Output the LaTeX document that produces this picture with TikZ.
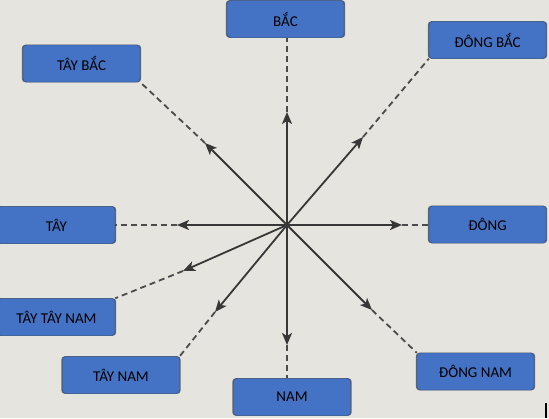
\documentclass[tikz,border=0pt]{standalone}
\usepackage{fontspec}
\setmainfont{Carlito}
\usepackage{tikz}
\usetikzlibrary{arrows.meta,shadows}
\definecolor{paper}{RGB}{230,228,222}
\definecolor{boxblue}{RGB}{68,114,196}
\definecolor{boxline}{RGB}{47,82,143}
\definecolor{ink}{RGB}{55,55,55}
\tikzset{
  dirbox/.style={draw=boxline, fill=boxblue, rounded corners=3.5pt, minimum width=117pt, minimum height=37pt, inner sep=0pt, font=\fontsize{15}{17}\selectfont, text=black, general shadow={fill=black!60, shadow scale=1.02}},
  ray/.style={draw=ink, line width=1.8pt, -{Stealth[length=12pt,width=10pt,inset=3pt]}},
  trail/.style={draw=ink!90, line width=1.8pt, dash pattern=on 6pt off 4pt}
}
\begin{document}
\begin{tikzpicture}[x=1pt, y=-1pt]
\fill[paper] (0,0) rectangle (549,418);
\useasboundingbox (0,0) rectangle (549,418);

\node[dirbox](BAC) at (285.5,19) {BẮC};
\node[dirbox](DONGBAC) at (487.5,40) {ĐÔNG BẮC};
\node[dirbox](TAYBAC) at (81.5,63.5) {TÂY BẮC};
\node[dirbox](TAY) at (56.5,225) {TÂY};
\node[dirbox](DONG) at (487.5,224.5) {ĐÔNG};
\node[dirbox](TTN) at (56.5,317) {TÂY TÂY NAM};
\node[dirbox](TAYNAM) at (121,375) {TÂY NAM};
\node[dirbox](NAM) at (292,397) {NAM};
\node[dirbox](DONGNAM) at (475.5,371.5) {ĐÔNG NAM};

\coordinate (O) at (287,225);
\coordinate (tN) at (287,112);
\coordinate (tNE) at (363,137);
\coordinate (tNW) at (205,143);
\coordinate (tE) at (402,225);
\coordinate (tW) at (177,225);
\coordinate (tWSW) at (183,271);
\coordinate (tSW) at (215,312);
\coordinate (tS) at (287,345);
\coordinate (tSE) at (372,310);

\draw[trail](tN) to (tN |- BAC.south);
\draw[trail](tNE) to (DONGBAC.south west);
\draw[trail](tNW) to (TAYBAC.south east);
\draw[trail](tE) to (tE -| DONG.west);
\draw[trail](tW) to (tW -| TAY.east);
\draw[trail](tWSW) to (TTN.north east);
\draw[trail](tSW) to (TAYNAM.north east);
\draw[trail](tS) to (tS |- NAM.north);
\draw[trail](tSE) to (DONGNAM.north west);

\draw[ray](O) to (tN);
\draw[ray](O) to (tNE);
\draw[ray](O) to (tNW);
\draw[ray](O) to (tE);
\draw[ray](O) to (tW);
\draw[ray](O) to (tWSW);
\draw[ray](O) to (tSW);
\draw[ray](O) to (tS);
\draw[ray](O) to (tSE);

\draw[line width=1.5pt] (546,403) -- (546,418);
\end{tikzpicture}
\end{document}
